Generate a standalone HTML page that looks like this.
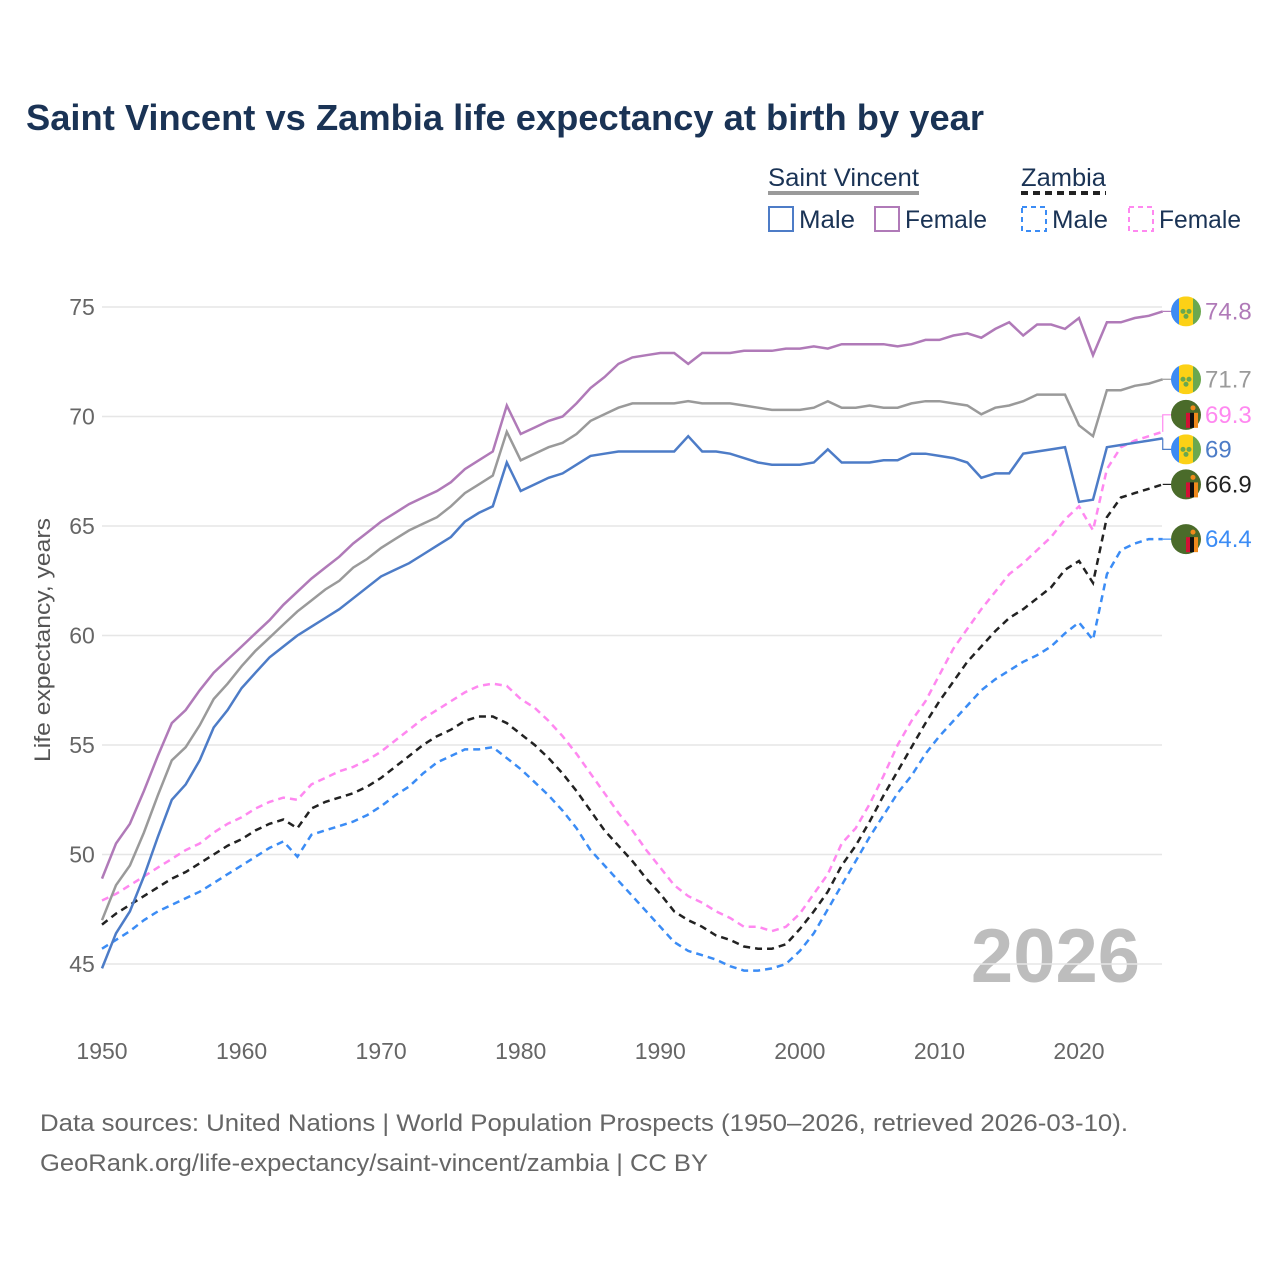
<!DOCTYPE html>
<html><head><meta charset="utf-8"><style>
html,body{margin:0;padding:0;background:#fff;}
svg{display:block;font-family:"Liberation Sans",sans-serif;}
</style></head><body>
<svg id="chart" width="1280" height="1280" viewBox="0 0 1280 1280">
<text x="26" y="130" font-size="36" font-weight="bold" fill="#1a3355" textLength="958" lengthAdjust="spacingAndGlyphs">Saint Vincent vs Zambia life expectancy at birth by year</text>
<g>
<text x="768" y="186" font-size="25" fill="#1a3355" textLength="151" lengthAdjust="spacingAndGlyphs">Saint Vincent</text>
<line x1="768" y1="193" x2="919" y2="193" stroke="#9a9a9a" stroke-width="4"/>
<text x="1021" y="186" font-size="25" fill="#1a3355" textLength="85" lengthAdjust="spacingAndGlyphs">Zambia</text>
<line x1="1021" y1="193" x2="1106" y2="193" stroke="#222" stroke-width="4" stroke-dasharray="7,5"/>
<rect x="769" y="207" width="24" height="24" fill="none" stroke="#4d7cc7" stroke-width="2"/>
<text x="799" y="228" font-size="25" fill="#1a3355" textLength="56" lengthAdjust="spacingAndGlyphs">Male</text>
<rect x="875" y="207" width="24" height="24" fill="none" stroke="#b07ab8" stroke-width="2"/>
<text x="905" y="228" font-size="25" fill="#1a3355" textLength="82" lengthAdjust="spacingAndGlyphs">Female</text>
<rect x="1022" y="207" width="24" height="24" fill="none" stroke="#3b8cf5" stroke-width="2" stroke-dasharray="5,4"/>
<text x="1052" y="228" font-size="25" fill="#1a3355" textLength="56" lengthAdjust="spacingAndGlyphs">Male</text>
<rect x="1129" y="207" width="24" height="24" fill="none" stroke="#ff88f0" stroke-width="2" stroke-dasharray="5,4"/>
<text x="1159" y="228" font-size="25" fill="#1a3355" textLength="82" lengthAdjust="spacingAndGlyphs">Female</text>
</g>
<text transform="translate(50,640) rotate(-90)" text-anchor="middle" font-size="22" fill="#555" textLength="244" lengthAdjust="spacingAndGlyphs">Life expectancy, years</text>
<text x="1140" y="982" text-anchor="end" font-size="76" font-weight="bold" fill="#bdbdbd">2026</text>
<g id="grid"></g><g id="series"></g><g id="ends"></g>
<text x="40" y="1131" font-size="24" fill="#666" textLength="1088" lengthAdjust="spacingAndGlyphs">Data sources: United Nations | World Population Prospects (1950–2026, retrieved 2026-03-10).</text>
<text x="40" y="1171" font-size="24" fill="#666" textLength="668" lengthAdjust="spacingAndGlyphs">GeoRank.org/life-expectancy/saint-vincent/zambia | CC BY</text>
</svg>
<script>
const startYear = 1950;
const xTicks = [1950,1960,1970,1980,1990,2000,2010,2020];
const yTicks = [45,50,55,60,65,70,75];
const svFemale = [48.9,50.5,51.4,52.9,54.5,56.0,56.6,57.5,58.3,58.9,59.5,60.1,60.7,61.4,62.0,62.6,63.1,63.6,64.2,64.7,65.2,65.6,66.0,66.3,66.6,67.0,67.6,68.0,68.4,70.5,69.2,69.5,69.8,70.0,70.6,71.3,71.8,72.4,72.7,72.8,72.9,72.9,72.4,72.9,72.9,72.9,73.0,73.0,73.0,73.1,73.1,73.2,73.1,73.3,73.3,73.3,73.3,73.2,73.3,73.5,73.5,73.7,73.8,73.6,74.0,74.3,73.7,74.2,74.2,74.0,74.5,72.8,74.3,74.3,74.5,74.6,74.8];
const svTotal = [47.0,48.6,49.5,51.0,52.7,54.3,54.9,55.9,57.1,57.8,58.6,59.3,59.9,60.5,61.1,61.6,62.1,62.5,63.1,63.5,64.0,64.4,64.8,65.1,65.4,65.9,66.5,66.9,67.3,69.3,68.0,68.3,68.6,68.8,69.2,69.8,70.1,70.4,70.6,70.6,70.6,70.6,70.7,70.6,70.6,70.6,70.5,70.4,70.3,70.3,70.3,70.4,70.7,70.4,70.4,70.5,70.4,70.4,70.6,70.7,70.7,70.6,70.5,70.1,70.4,70.5,70.7,71.0,71.0,71.0,69.6,69.1,71.2,71.2,71.4,71.5,71.7];
const svMale = [44.8,46.4,47.4,49.0,50.8,52.5,53.2,54.3,55.8,56.6,57.6,58.3,59.0,59.5,60.0,60.4,60.8,61.2,61.7,62.2,62.7,63.0,63.3,63.7,64.1,64.5,65.2,65.6,65.9,67.9,66.6,66.9,67.2,67.4,67.8,68.2,68.3,68.4,68.4,68.4,68.4,68.4,69.1,68.4,68.4,68.3,68.1,67.9,67.8,67.8,67.8,67.9,68.5,67.9,67.9,67.9,68.0,68.0,68.3,68.3,68.2,68.1,67.9,67.2,67.4,67.4,68.3,68.4,68.5,68.6,66.1,66.2,68.6,68.7,68.8,68.9,69.0];
const zmFemale = [47.9,48.2,48.6,49.0,49.4,49.8,50.2,50.5,51.0,51.4,51.7,52.1,52.4,52.6,52.5,53.2,53.5,53.8,54.0,54.3,54.7,55.2,55.7,56.2,56.6,57.0,57.4,57.7,57.8,57.7,57.1,56.7,56.1,55.4,54.6,53.7,52.8,51.9,51.1,50.2,49.4,48.6,48.1,47.8,47.4,47.1,46.7,46.7,46.5,46.7,47.3,48.2,49.1,50.5,51.2,52.3,53.6,55.0,56.1,57.0,58.2,59.4,60.3,61.2,62.0,62.8,63.3,63.9,64.5,65.3,65.9,64.8,67.6,68.6,68.9,69.1,69.3];
const zmTotal = [46.8,47.3,47.7,48.1,48.5,48.9,49.2,49.6,50.0,50.4,50.7,51.1,51.4,51.6,51.2,52.1,52.4,52.6,52.8,53.1,53.5,54.0,54.5,55.0,55.4,55.7,56.1,56.3,56.3,56.0,55.5,55.0,54.4,53.7,52.9,52.0,51.1,50.4,49.7,48.9,48.2,47.4,47.0,46.7,46.3,46.1,45.8,45.7,45.7,45.9,46.6,47.4,48.3,49.5,50.4,51.5,52.7,53.8,54.9,56.0,57.0,57.9,58.8,59.5,60.2,60.8,61.2,61.7,62.2,63.0,63.4,62.4,65.4,66.3,66.5,66.7,66.9];
const zmMale = [45.7,46.1,46.5,47.0,47.4,47.7,48.0,48.3,48.7,49.1,49.5,49.9,50.3,50.6,49.9,50.9,51.1,51.3,51.5,51.8,52.2,52.7,53.1,53.7,54.2,54.5,54.8,54.8,54.9,54.4,53.9,53.3,52.7,52.0,51.2,50.2,49.5,48.8,48.1,47.4,46.7,46.0,45.6,45.4,45.2,44.9,44.7,44.7,44.8,45.0,45.6,46.4,47.5,48.6,49.7,50.8,51.8,52.8,53.6,54.6,55.4,56.1,56.8,57.5,58.0,58.4,58.8,59.1,59.5,60.1,60.6,59.8,62.8,63.9,64.2,64.4,64.4];

const NS="http://www.w3.org/2000/svg";
const xScale = y => 102 + (y-1950)*(1079-102)/70;
const yScale = v => 964 - (v-45)*(964-307)/30;
function mk(tag, parent){const e=document.createElementNS(NS,tag);parent.appendChild(e);return e;}
const grid=document.getElementById('grid');
yTicks.forEach(t=>{
  const l=mk('line',grid);
  
  
  l.setAttribute('x1',102);l.setAttribute('x2',1162);l.setAttribute('y1',yScale(t));l.setAttribute('y2',yScale(t));
  l.setAttribute('stroke','#e6e6e6');l.setAttribute('stroke-width','1.5');
  const tx=mk('text',grid);
  
  
  tx.setAttribute('x',82);tx.setAttribute('y',yScale(t)+8);tx.setAttribute('text-anchor','middle');
  tx.setAttribute('font-size','23');tx.setAttribute('fill','#666');tx.textContent=t;
});
xTicks.forEach(t=>{
  const tx=mk('text',grid);
  
  
  tx.setAttribute('x',xScale(t));tx.setAttribute('y',1059);tx.setAttribute('text-anchor','middle');
  tx.setAttribute('font-size','23');tx.setAttribute('fill','#666');tx.textContent=t;
});
const seriesDefs=[
 {d:zmMale,c:'#3b8cf5',dash:'7,5',n:'zambia-male-line',flag:'zm',ly:0},
 {d:zmTotal,c:'#222',dash:'7,5',n:'zambia-total-line',flag:'zm',ly:0},
 {d:zmFemale,c:'#ff88f0',dash:'7,5',n:'zambia-female-line',flag:'zm',ly:-17},
 {d:svMale,c:'#4d7cc7',dash:null,n:'saint-vincent-male-line',flag:'sv',ly:11},
 {d:svTotal,c:'#9a9a9a',dash:null,n:'saint-vincent-total-line',flag:'sv',ly:0},
 {d:svFemale,c:'#b07ab8',dash:null,n:'saint-vincent-female-line',flag:'sv',ly:0}
];
const sg=document.getElementById('series'), eg=document.getElementById('ends');
seriesDefs.forEach(s=>{
  const p=mk('path',sg);
  
  
  p.setAttribute('d',s.d.map((v,i)=>(i?'L':'M')+xScale(startYear+i).toFixed(1)+','+yScale(v).toFixed(1)).join(''));
  p.setAttribute('fill','none');p.setAttribute('stroke',s.c);p.setAttribute('stroke-width','2.5');
  if(s.dash)p.setAttribute('stroke-dasharray',s.dash);
  const last=s.d[s.d.length-1], lx=xScale(startYear+s.d.length-1), ly=yScale(last)+s.ly;
  const c=mk('path',eg);
  
  
  c.setAttribute('d',`M${lx},${yScale(last)}L${lx},${ly}L1172,${ly}`);
  c.setAttribute('fill','none');c.setAttribute('stroke',s.c);c.setAttribute('stroke-width','1.2');
  const g=mk('g',eg);
  
  
  if(s.flag==='sv'){
    g.innerHTML=`<clipPath id="cp${s.n}"><circle cx="1186" cy="${ly}" r="15"/></clipPath><g clip-path="url(#cp${s.n})"><rect x="1171" y="${ly-15}" width="8" height="30" fill="#3d8bf2"/><rect x="1179" y="${ly-15}" width="14" height="30" fill="#fcd116"/><rect x="1193" y="${ly-15}" width="8" height="30" fill="#6aa84f"/><circle cx="1183" cy="${ly}" r="2.5" fill="#6aa84f"/><circle cx="1189" cy="${ly}" r="2.5" fill="#6aa84f"/><circle cx="1186" cy="${ly+5}" r="2.5" fill="#6aa84f"/></g>`;
  } else {
    g.innerHTML=`<circle cx="1186" cy="${ly}" r="15" fill="#4a6b2a"/><rect x="1186" y="${ly-2}" width="4" height="15" fill="#d21034"/><rect x="1190" y="${ly-2}" width="4" height="15" fill="#111"/><rect x="1194" y="${ly-2}" width="4" height="15" fill="#f08a1c"/><circle cx="1193" cy="${ly-7}" r="2.5" fill="#f08a1c"/>`;
  }
  const t=mk('text',eg);
  
  
  t.setAttribute('x',1205);t.setAttribute('y',ly+8);t.setAttribute('font-size','24');t.setAttribute('fill',s.c);
  t.textContent=last;
});
</script>
</body></html>
